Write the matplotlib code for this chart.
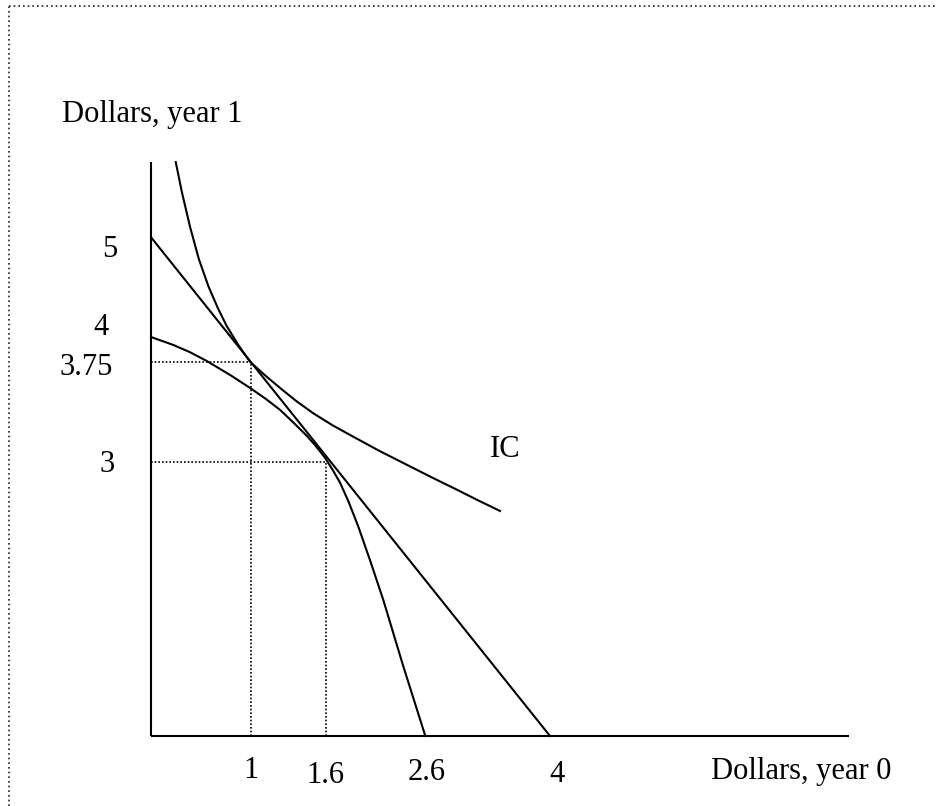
import matplotlib
matplotlib.use("Agg")
import matplotlib.pyplot as plt
from matplotlib.lines import Line2D

plt.rcParams['font.family'] = ['Liberation Serif', 'DejaVu Serif']

# ---- data (diagram units) ----
# budget / market line endpoints
budget_x = [0.0, 4.0]
budget_y = [5.0, 0.0]

# indifference curve (IC)
ic_x = [0.248, 0.31, 0.391, 0.48, 0.575, 0.67, 0.759, 0.875, 0.992, 1.15,
        1.293, 1.46, 1.627, 1.82, 2.028, 2.29, 2.563, 2.81, 3.065, 3.28, 3.499]
ic_y = [5.754, 5.45, 5.106, 4.78, 4.51, 4.29, 4.11, 3.92, 3.752, 3.61,
        3.49, 3.355, 3.235, 3.115, 3.000, 2.858, 2.720, 2.595, 2.470, 2.362, 2.256]

# investment opportunity (production) frontier
pf_x = [0.0, 0.224, 0.39, 0.558, 0.80, 0.992, 1.15, 1.293, 1.43, 1.561, 1.65,
        1.744, 1.82, 1.895, 1.98, 2.078, 2.2, 2.329, 2.529, 2.75]
pf_y = [4.0, 3.92, 3.848, 3.76, 3.615, 3.49, 3.38, 3.27, 3.14, 3.01, 2.91,
        2.79, 2.67, 2.54, 2.35, 2.10, 1.75, 1.363, 0.70, 0.0]

# dotted guide points (x, y)
guide_x = [1.0, 1.75]
guide_y = [3.75, 2.75]

# tick labels
x_tick_labels = ["1", "1.6", "2.6", "4"]
y_tick_labels = ["5", "4", "3.75", "3"]

x_axis_title = "Dollars, year 0"
y_axis_title = "Dollars, year 1"
ic_label = "IC"

# ---- figure ----
W, H, DPI = 937, 806, 100
fig = plt.figure(figsize=(W / DPI, H / DPI), dpi=DPI)
ax = fig.add_axes([0, 0, 1, 1])
ax.set_xlim(-1.5138, 7.8797)
ax.set_ylim(-0.7018, 7.3784)
ax.axis('off')

lw = 1.5
fs = 22

# axes lines
ax.plot([0, 7.0], [0, 0], color='black', lw=lw, solid_capstyle='butt')
ax.plot([0, 0], [0, 5.754], color='black', lw=lw, solid_capstyle='butt')

# curves
ax.plot(budget_x, budget_y, color='black', lw=lw)
ax.plot(ic_x, ic_y, color='black', lw=lw, solid_joinstyle='round')
ax.plot(pf_x, pf_y, color='black', lw=lw, solid_joinstyle='round')

# dotted guides
dot = (0, (1, 1.2))
for gx, gy in zip(guide_x, guide_y):
    ax.plot([0, gx], [gy, gy], color='black', lw=1.2, linestyle=dot)
    ax.plot([gx, gx], [0, gy], color='black', lw=1.2, linestyle=dot)

# x tick labels
x_label_pos = [(1.0, -0.424), (1.751, -0.474), (2.764, -0.441), (4.074, -0.458)]
for lab, (lx, ly) in zip(x_tick_labels, x_label_pos):
    ax.text(lx, ly, lab, ha='center', va='baseline', fontsize=fs)

# y tick labels
y_label_pos = [(-0.338, 4.805), (-0.428, 4.020), (-0.378, 3.619), (-0.361, 2.650)]
for lab, (lx, ly) in zip(y_tick_labels, y_label_pos):
    ax.text(lx, ly, lab, ha='right', va='baseline', fontsize=fs)

# axis titles and IC label
ax.text(-0.892, 6.158, y_axis_title, ha='left', va='baseline', fontsize=fs)
ax.text(6.516, -0.431, x_axis_title, ha='center', va='baseline', fontsize=fs)
ax.text(3.549, 2.794, ic_label, ha='center', va='baseline', fontsize=fs)

# dotted page border (top and left)
top_y = 1 - 6.0 / H
left_x = 9.3 / W
fig.add_artist(Line2D([left_x, 1.0], [top_y, top_y], transform=fig.transFigure,
                      color='#222222', lw=1.2, linestyle=(0, (1, 1.8))))
fig.add_artist(Line2D([left_x, left_x], [0.0, top_y], transform=fig.transFigure,
                      color='#222222', lw=1.2, linestyle=(0, (1, 1.8))))

fig.savefig("out.png", dpi=DPI, facecolor='white')
